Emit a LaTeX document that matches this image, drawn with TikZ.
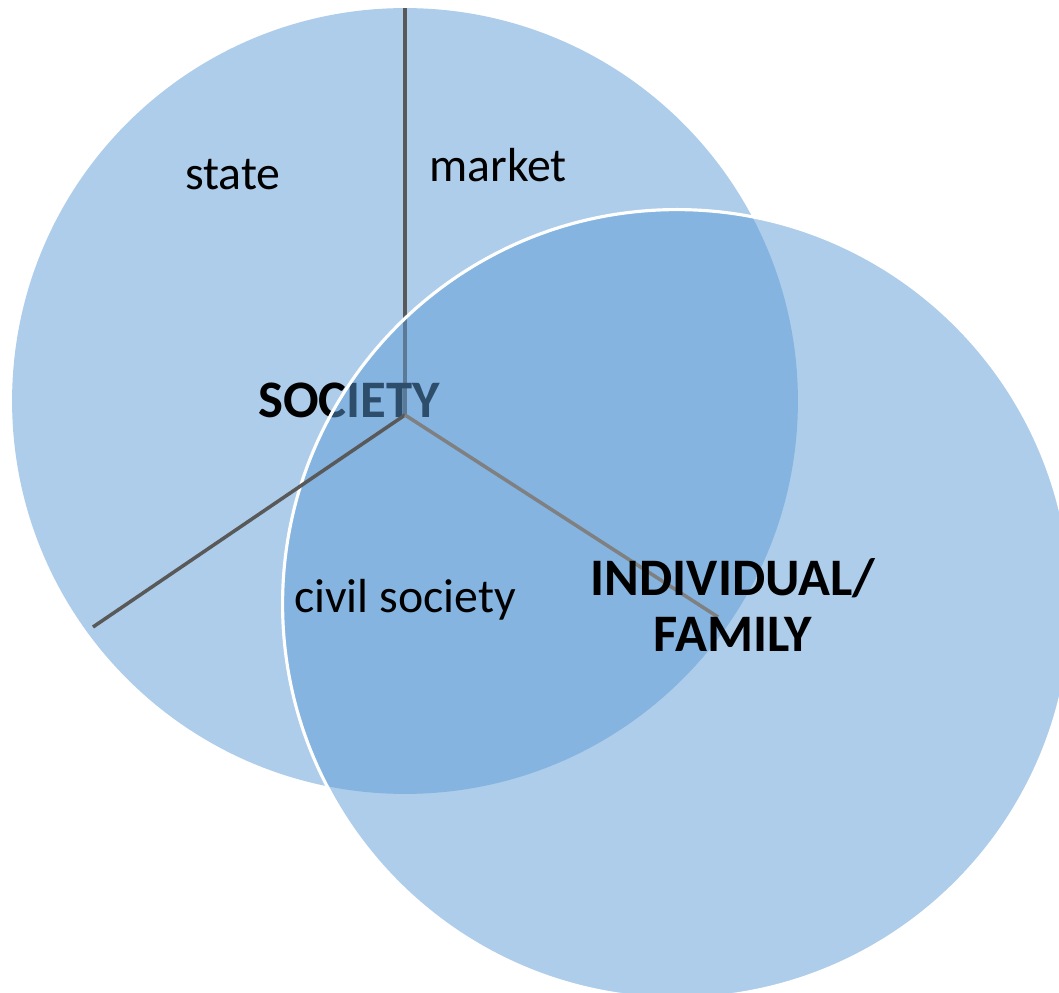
\documentclass[tikz,border=0pt]{standalone}
\usepackage{fontspec}
\setmainfont{Carlito}
\usetikzlibrary{positioning}
\definecolor{VennBlue}{RGB}{91,155,213}
\definecolor{SpokeGray}{RGB}{89,89,89}
\definecolor{SpokeLight}{RGB}{128,128,128}

\begin{document}
\begin{tikzpicture}[x=0.02cm, y=-0.02cm]
        \tikzstyle{sphere} = [circle, fill=VennBlue, fill opacity=0.5, inner sep=0pt]
        \tikzstyle{spoke} = [draw=SpokeGray, line width=2pt]
        \tikzstyle{areatext} = [font=\fontsize{27.2}{32}\selectfont, inner sep=0pt]
        \tikzstyle{bigtext} = [font=\fontsize{30}{32}\selectfont\bfseries, inner sep=0pt, align=center]

        \useasboundingbox (0,0) rectangle (1059,993);

        \node[sphere, minimum size=15.72cm] (society) at (405,401) {};

        \coordinate (hub) at (405,415);
        \coordinate (top) at (405,8);
        \coordinate (lowleft) at (93,627);
        \coordinate (lowright) at (718,617);

        \draw[spoke] (hub) -- (top);
        \node[bigtext] (soc) at (349,400) {SOCIETY};

        \node[sphere, draw=white, draw opacity=1, line width=1.8pt, minimum size=15.78cm] (individual) at (677,604) {};

        \draw[spoke] (hub) -- (lowleft);
        \draw[spoke, draw=SpokeLight] (hub) -- (lowright);

        \node[areatext] (state) at (233,175) {state};
        \node[areatext] (market) at (498,165) {market};
        \node[areatext] (civil) at (405,600) {civil society};
        \node[bigtext] (family) at (733,605) {INDIVIDUAL/\\FAMILY};
      \end{tikzpicture}
\end{document}
